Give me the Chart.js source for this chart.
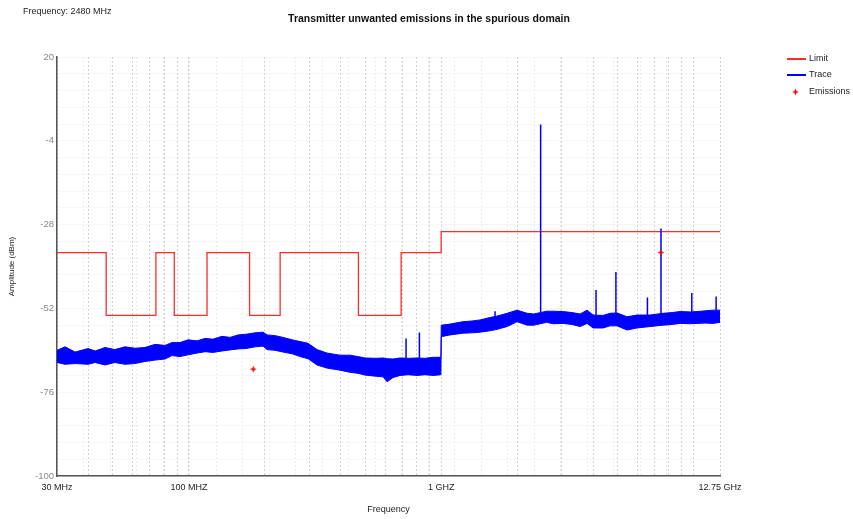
<!DOCTYPE html>
<html><head><meta charset="utf-8">
<script src="https://cdn.jsdelivr.net/npm/chart.js@4/dist/chart.umd.min.js"></script>
<style>html,body{margin:0;padding:0;background:#fff;}canvas{display:block;}</style>
</head><body>
<canvas id="c" width="853" height="519"></canvas>
<script>
const chartTitle = 'Transmitter unwanted emissions in the spurious domain';
const subTitle = 'Frequency: 2480 MHz';
const xAxisTitle = 'Frequency';
const yAxisTitle = 'Amplitude (dBm)';
const legendLabels = ['Limit', 'Trace', 'Emissions'];
const xTickValues = [30, 100, 1000, 12750];
const xTickLabels = ['30 MHz', '100 MHZ', '1 GHZ', '12.75 GHz'];
const xGridValues = [30,40,50,60,70,80,90,100,200,300,400,500,600,700,800,900,1000,2000,3000,4000,5000,6000,7000,8000,9000,10000,12750];
const yTickLabels = [-100, -76, -52, -28, -4, 20];
const yGridStep = 4.8;
const minorGridDivisions = 25;

const limitFreq  = [30, 47, 74, 87.5, 118, 174, 230, 470, 694, 1000, 12750];
const limitLevel = [-36, -54, -36, -54, -36, -54, -36, -54, -36, -30, -30];

const traceFreq = [30,32.3,35.4,39.8,42.5,46.5,50.9,55.8,61.1,67,73.4,80.4,85.7,92.2,99.2,107.7,115.9,124.6,135.3,145.6,156.6,168.5,182.9,196.8,204.1,219.5,236.2,256.5,275.9,296.7,322.1,352.9,397.5,435.3,468.4,499.4,547.1,588.5,610.4,644.8,687.3,739.4,802.7,863.7,929.3,998,
  1001,1085,1222,1326,1427,1564,1667,1826,2000,2192,2330,2620,2778,3044,3305,3555,3789,4003,4386,4675,4984,5459,5983,6735,7584,8236,8859,9705,10347,11130,11971,12750];
const traceUpper = [-64,-63,-64.5,-63.5,-64.2,-63.2,-63.8,-63,-63.4,-63.2,-62.3,-62.6,-61.8,-61.8,-61,-61.3,-60.6,-60.8,-60,-60.3,-59.6,-59.4,-59,-58.8,-59.6,-59.8,-60.3,-61,-61.5,-62,-63.8,-64.8,-65.4,-65.4,-65.8,-66.2,-66.3,-66.2,-66.4,-66.5,-66.2,-66.3,-66.2,-66.3,-66,-66,
  -56.8,-56.5,-55.8,-55.6,-55.3,-54.6,-54.2,-53.4,-52.5,-53.4,-53.6,-52.8,-52.8,-52.9,-53.2,-53.6,-52.5,-53.9,-54,-53.4,-53.3,-54.4,-53.9,-53.9,-53.4,-53.2,-52.9,-53,-52.9,-52.7,-52.5,-52.5];
const traceLower = [-67.5,-68,-67.8,-68,-67.5,-68.2,-67.5,-68,-67.8,-67.2,-66.8,-66.5,-65.5,-65.8,-65.3,-64.8,-64.4,-64.6,-64.2,-63.9,-63.6,-63.5,-63,-62.8,-63.8,-64,-64.5,-65,-65.8,-66.4,-68.2,-69.1,-69.7,-70.3,-70.6,-71.1,-71.4,-71.6,-73,-71.8,-71.2,-71,-71.2,-71,-71.2,-71,
  -60.1,-59.6,-59.1,-59,-58.8,-58.4,-58,-57.2,-55.8,-56.8,-56.8,-56,-56.4,-56.3,-56.6,-57.2,-56.3,-57.6,-57.6,-57,-57,-58.2,-57.6,-57.2,-56.8,-56.6,-56.3,-56.4,-56.3,-56.2,-56.3,-56];

const spikeFreq = [726, 820, 1636, 2480, 4113, 4930, 6573, 7440, 9857, 12306];
const spikeBase = [-66.3, -66.2, -54.4, -53, -54, -53.5, -54, -53.5, -53, -52.5];
const spikeTop  = [-60.6, -58.9, -52.8, 0.7, -46.7, -41.6, -48.9, -29.1, -47.6, -48.6];

const emissionFreq  = [180, 7440];
const emissionLevel = [-69.4, -36];

const FONT = "'Liberation Sans', Arial, sans-serif";
const LIMIT_COLOR = 'rgba(255,20,20,0.9)';
const TRACE_COLOR = '#0000ff';

function pts(xs, ys) { return xs.map((x, i) => ({ x: x, y: ys[i] })); }
const spikeData = [];
spikeFreq.forEach((f, i) => { spikeData.push({x: f, y: spikeBase[i]}, {x: f, y: spikeTop[i]}, {x: f, y: null}); });

function starMarker() {
  const c = document.createElement('canvas'); c.width = 9; c.height = 9;
  const g = c.getContext('2d'); g.fillStyle = '#ff0000';
  g.beginPath();
  g.moveTo(4.5, 1); g.lineTo(5.5, 3.5); g.lineTo(8, 4.5); g.lineTo(5.5, 5.5);
  g.lineTo(4.5, 8); g.lineTo(3.5, 5.5); g.lineTo(1, 4.5); g.lineTo(3.5, 3.5);
  g.closePath(); g.fill();
  return c;
}
const STAR = starMarker();

const textPlugin = {
  id: 'texts',
  afterDraw(chart) {
    const c = chart.ctx;
    c.save();
    c.fillStyle = '#111';
    c.font = 'bold 10.5px ' + FONT; c.textAlign = 'center'; c.textBaseline = 'middle';
    c.fillText(chartTitle, 429, 19);
    c.font = '9px ' + FONT; c.textAlign = 'left'; c.fillStyle = '#222';
    c.fillText(subTitle, 23, 12);
    const ly = [59, 75, 92];
    c.lineWidth = 2;
    c.strokeStyle = LIMIT_COLOR; c.beginPath(); c.moveTo(787, ly[0]); c.lineTo(806, ly[0]); c.stroke();
    c.strokeStyle = TRACE_COLOR; c.beginPath(); c.moveTo(787, ly[1]); c.lineTo(806, ly[1]); c.stroke();
    c.drawImage(STAR, 791, ly[2] - 4.5);
    c.fillStyle = '#222';
    legendLabels.forEach((t, i) => c.fillText(t, 809, ly[i]));
    c.restore();
  }
};

new Chart(document.getElementById('c').getContext('2d'), {
  type: 'line',
  data: {
    datasets: [
      { label: legendLabels[0], xAxisID: 'x', yAxisID: 'y', data: pts(limitFreq, limitLevel), borderColor: LIMIT_COLOR, borderWidth: 1.3, stepped: 'before', pointRadius: 0, fill: false, order: 3 },
      { label: 'TraceLower', xAxisID: 'x', yAxisID: 'y', data: pts(traceFreq, traceLower), borderColor: TRACE_COLOR, borderWidth: 1, pointRadius: 0, fill: false, order: 2, tension: 0 },
      { label: legendLabels[1], xAxisID: 'x', yAxisID: 'y', data: pts(traceFreq, traceUpper), borderColor: TRACE_COLOR, borderWidth: 1, pointRadius: 0, fill: '-1', backgroundColor: TRACE_COLOR, order: 2, tension: 0 },
      { label: 'Spikes', xAxisID: 'x', yAxisID: 'y', data: spikeData, borderColor: TRACE_COLOR, borderWidth: 1.5, pointRadius: 0, spanGaps: false, fill: false, order: 1 },
      { label: legendLabels[2], xAxisID: 'x', yAxisID: 'y', data: pts(emissionFreq, emissionLevel), showLine: false, pointStyle: STAR, pointRadius: 4, order: 0 }
    ]
  },
  options: {
    responsive: false, animation: false, devicePixelRatio: 1,
    layout: { padding: { top: 57, left: 0, right: 133, bottom: 0 } },
    plugins: { legend: { display: false }, title: { display: false }, tooltip: { enabled: false } },
    scales: {
      x: {
        type: 'logarithmic', position: 'bottom', min: 30, max: 12750,
        afterBuildTicks: s => { s.ticks = xGridValues.map(v => ({ value: v })); },
        ticks: {
          autoSkip: false, maxRotation: 0, minRotation: 0, padding: 6, color: '#222',
          font: { family: FONT, size: 9 },
          callback: v => { const i = xTickValues.indexOf(v); return i < 0 ? '' : xTickLabels[i]; }
        },
        grid: { color: '#d2d2d2', lineWidth: 1, drawTicks: false, z: 0 },
        border: { display: true, color: '#555', width: 1.5, dash: [2, 2] },
        title: { display: true, text: xAxisTitle, color: '#222', font: { family: FONT, size: 9 }, padding: { top: 0, bottom: 4 } },
        afterFit: s => { s.height = 43; }
      },
      xg: {
        type: 'linear', position: 'bottom', min: 0, max: minorGridDivisions,
        afterBuildTicks: s => { s.ticks = Array.from({length: minorGridDivisions + 1}, (_, i) => ({ value: i })); },
        ticks: { display: false },
        grid: { color: '#ececec', lineWidth: 1, drawTicks: false },
        border: { display: false, dash: [2, 2] },
        afterFit: s => { s.height = 0; }
      },
      y: {
        type: 'linear', position: 'left', min: -100, max: 20,
        afterBuildTicks: s => { s.ticks = Array.from({length: 26}, (_, i) => ({ value: -100 + i * yGridStep })); },
        ticks: {
          padding: 3, color: '#888', font: { family: FONT, size: 9.5 },
          callback: v => { const r = Math.round(v * 10) / 10; return yTickLabels.includes(r) ? String(r) : ''; }
        },
        grid: { color: '#ececec', lineWidth: 1, drawTicks: false },
        border: { display: true, color: '#555', width: 1.5, dash: [2, 2] },
        title: { display: true, text: yAxisTitle, color: '#222', font: { family: FONT, size: 8 }, padding: { top: 7, bottom: 0 } },
        afterFit: s => { s.width = 57; }
      }
    }
  },
  plugins: [textPlugin]
});
</script>
</body></html>
